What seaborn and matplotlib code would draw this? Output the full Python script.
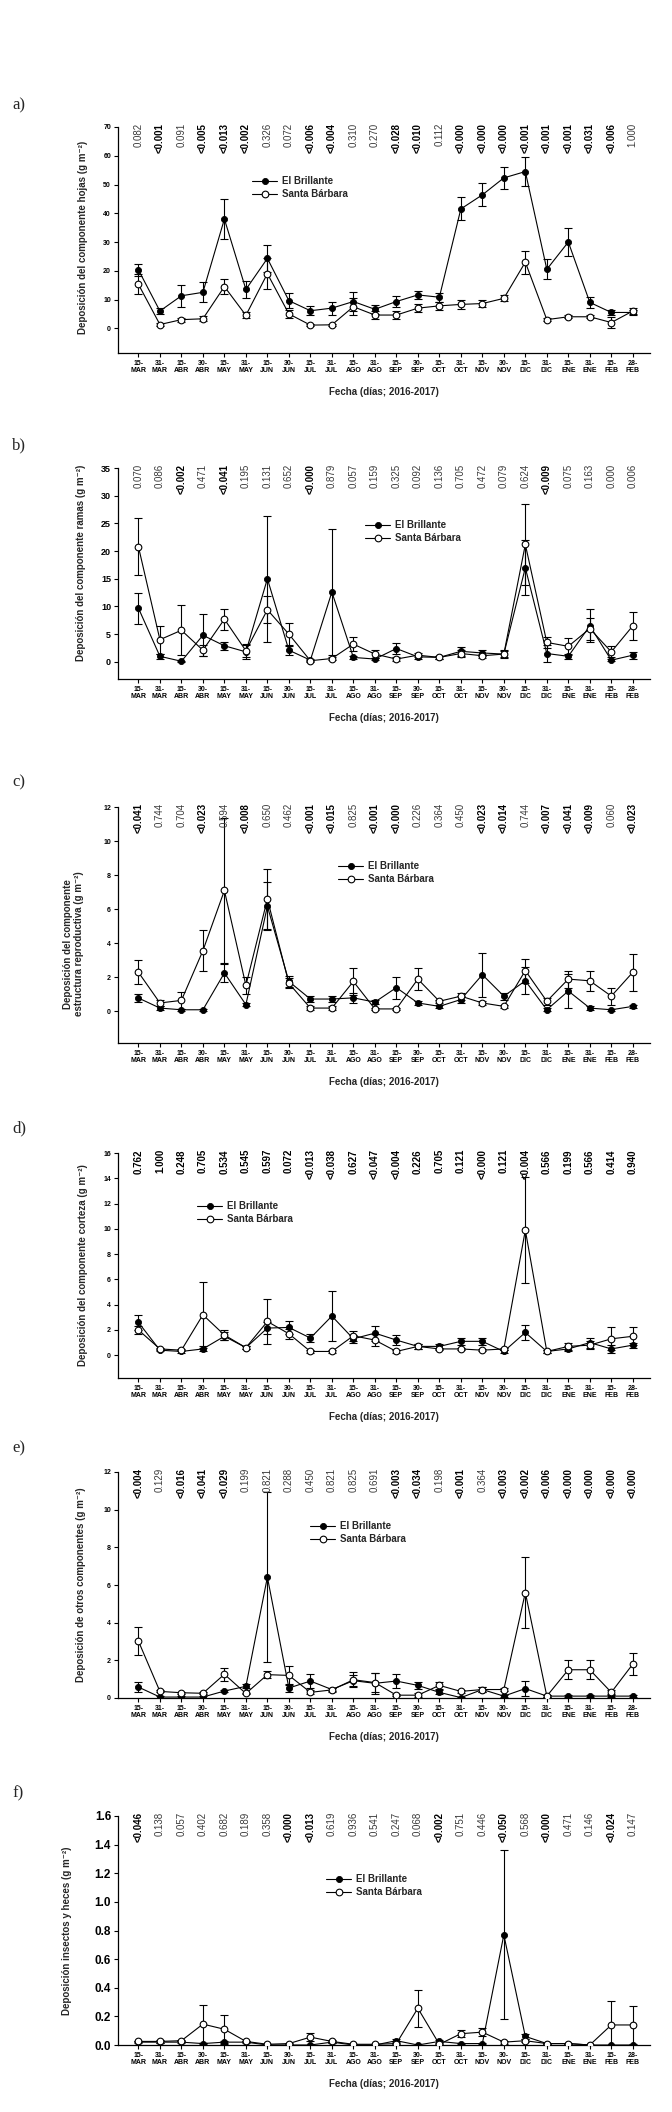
import numpy as np
import pandas as pd
import matplotlib
matplotlib.use('Agg')
import matplotlib.pyplot as plt
import matplotlib.transforms as mtransforms
import seaborn as sns

# ---------------- datos ----------------
fechas = ['15-\nMAR', '31-\nMAR', '15-\nABR', '30-\nABR', '15-\nMAY', '31-\nMAY',
          '15-\nJUN', '30-\nJUN', '15-\nJUL', '31-\nJUL', '15-\nAGO', '31-\nAGO',
          '15-\nSEP', '30-\nSEP', '15-\nOCT', '31-\nOCT', '15-\nNOV', '30-\nNOV',
          '15-\nDIC', '31-\nDIC', '15-\nENE', '31-\nENE', '15-\nFEB', '28-\nFEB']

# a) hojas
hojas_eb = [20.3, 6.0, 11.3, 12.5, 38.0, 13.5, 24.3, 9.6, 6.1, 7.0, 9.3, 6.6,
            9.3, 11.6, 10.8, 41.5, 46.4, 52.3, 54.5, 20.5, 30.0, 9.0, 5.5, 5.5]
hojas_eb_err = [2.0, 1.0, 3.8, 3.5, 7.0, 3.0, 4.6, 2.5, 1.5, 2.3, 3.3, 1.5,
                2.0, 1.5, 1.5, 4.0, 4.0, 3.8, 5.0, 3.5, 5.0, 2.0, 1.0, 1.0]
hojas_sb = [15.3, 1.3, 3.0, 3.3, 14.5, 4.5, 19.0, 5.0, 1.1, 1.2, 7.5, 4.6,
            4.6, 7.0, 7.8, 8.3, 8.6, 10.4, 23.0, 3.0, 4.0, 4.0, 2.0, 6.0]
hojas_sb_err = [3.5, 0.5, 0.7, 0.8, 2.5, 1.0, 5.5, 1.5, 0.3, 0.3, 2.9, 1.5,
                1.5, 1.5, 1.5, 1.5, 1.2, 1.0, 4.0, 0.5, 0.5, 0.5, 2.0, 1.0]
p_hojas = ['0.082', '<0.001', '0.091', '<0.005', '<0.013', '<0.002', '0.326', '0.072',
           '<0.006', '<0.004', '0.310', '0.270', '<0.028', '<0.010', '0.112', '<0.000',
           '<0.000', '<0.000', '<0.001', '<0.001', '<0.001', '<0.031', '<0.006', '1.000']

# b) ramas
ramas_eb = [9.7, 1.0, 0.1, 4.8, 2.9, 1.8, 15.0, 2.1, 0.3, 12.6, 0.8, 0.5,
            2.4, 0.9, 0.8, 1.9, 1.6, 1.4, 17.0, 1.5, 1.0, 6.5, 0.3, 1.2]
ramas_eb_err = [2.8, 0.5, 0.1, 3.8, 0.7, 1.2, 11.4, 0.8, 0.2, 11.3, 0.3, 0.2,
                1.0, 0.3, 0.3, 0.8, 0.6, 0.7, 5.0, 1.5, 0.5, 3.0, 0.2, 0.6]
ramas_sb = [20.8, 4.0, 5.7, 2.1, 7.7, 2.0, 9.4, 5.0, 0.2, 0.6, 3.2, 1.4,
            0.5, 1.2, 0.8, 1.5, 1.1, 1.4, 21.2, 3.5, 2.8, 6.0, 1.8, 6.5]
ramas_sb_err = [5.2, 2.5, 4.5, 1.0, 1.9, 1.2, 2.4, 2.0, 0.2, 0.3, 1.3, 0.7,
                0.3, 0.4, 0.3, 0.6, 0.4, 0.5, 7.3, 1.0, 1.5, 2.0, 1.0, 2.5]
p_ramas = ['0.070', '0.086', '<0.002', '0.471', '<0.041', '0.195', '0.131', '0.652',
           '<0.000', '0.879', '0.057', '0.159', '0.325', '0.092', '0.136', '0.705',
           '0.472', '0.079', '0.624', '<0.009', '0.075', '0.163', '0.000', '0.006']

# c) estructura reproductiva
estr_eb = [0.79, 0.2, 0.1, 0.1, 2.26, 0.4, 6.18, 1.76, 0.73, 0.73, 0.8, 0.55,
           1.4, 0.5, 0.3, 0.7, 2.16, 0.9, 1.8, 0.1, 1.2, 0.2, 0.1, 0.3]
estr_eb_err = [0.25, 0.1, 0.05, 0.05, 0.55, 0.1, 1.4, 0.3, 0.15, 0.15, 0.3, 0.1,
               0.65, 0.1, 0.1, 0.2, 1.3, 0.2, 0.8, 0.1, 1.0, 0.1, 0.05, 0.1]
estr_sb = [2.3, 0.5, 0.65, 3.57, 7.1, 1.53, 6.6, 1.65, 0.2, 0.2, 1.76, 0.15,
           0.15, 1.9, 0.6, 0.9, 0.5, 0.3, 2.4, 0.6, 1.9, 1.8, 0.9, 2.3]
estr_sb_err = [0.7, 0.2, 0.5, 1.2, 4.27, 0.5, 1.75, 0.3, 0.1, 0.1, 0.8, 0.05,
               0.05, 0.65, 0.1, 0.2, 0.1, 0.1, 0.7, 0.2, 0.5, 0.6, 0.5, 1.1]
p_estr = ['<0.041', '0.744', '0.704', '<0.023', '0.594', '<0.008', '0.650', '0.462',
          '<0.001', '<0.015', '0.825', '<0.001', '<0.000', '0.226', '0.364', '0.450',
          '<0.023', '<0.014', '0.744', '<0.007', '<0.041', '<0.009', '0.060', '<0.023']

# d) corteza
cort_eb = [2.6, 0.4, 0.3, 0.5, 1.5, 0.6, 2.15, 2.2, 1.36, 3.1, 1.3, 1.75,
           1.2, 0.7, 0.7, 1.1, 1.1, 0.3, 1.8, 0.3, 0.5, 1.0, 0.5, 0.8]
cort_eb_err = [0.6, 0.1, 0.1, 0.2, 0.3, 0.1, 0.5, 0.5, 0.3, 1.95, 0.3, 0.6,
               0.4, 0.2, 0.2, 0.3, 0.3, 0.1, 0.6, 0.1, 0.2, 0.4, 0.3, 0.2]
cort_sb = [2.0, 0.5, 0.4, 3.2, 1.6, 0.6, 2.67, 1.7, 0.3, 0.3, 1.54, 1.2,
           0.3, 0.7, 0.5, 0.5, 0.4, 0.5, 9.9, 0.3, 0.7, 0.8, 1.3, 1.5]
cort_sb_err = [0.3, 0.1, 0.1, 2.6, 0.4, 0.1, 1.8, 0.4, 0.1, 0.1, 0.4, 0.5,
               0.1, 0.2, 0.1, 0.1, 0.1, 0.1, 4.2, 0.1, 0.3, 0.3, 0.9, 0.7]
p_cort = ['0.762', '1.000', '0.248', '0.705', '0.534', '0.545', '0.597', '0.072',
          '<0.013', '<0.038', '0.627', '<0.047', '<0.004', '0.226', '0.705', '0.121',
          '<0.000', '0.121', '<0.004', '0.566', '0.199', '0.566', '0.414', '0.940']

# e) otros componentes
otros_eb = [0.58, 0.05, 0.05, 0.05, 0.37, 0.62, 6.42, 0.53, 0.9, 0.45, 0.92, 0.78,
            0.9, 0.67, 0.3, 0.02, 0.45, 0.1, 0.5, 0.1, 0.1, 0.1, 0.1, 0.1]
otros_eb_err = [0.27, 0.03, 0.03, 0.03, 0.05, 0.1, 4.5, 0.2, 0.35, 0.1, 0.3, 0.55,
                0.35, 0.2, 0.1, 0.02, 0.15, 0.05, 0.4, 0.05, 0.05, 0.05, 0.05, 0.05]
otros_sb = [3.02, 0.35, 0.28, 0.25, 1.26, 0.24, 1.24, 1.2, 0.3, 0.43, 0.97, 0.82,
            0.15, 0.15, 0.67, 0.35, 0.45, 0.45, 5.6, 0.1, 1.5, 1.5, 0.3, 1.8]
otros_sb_err = [0.73, 0.05, 0.05, 0.05, 0.35, 0.05, 0.2, 0.5, 0.1, 0.1, 0.4, 0.5,
                0.05, 0.1, 0.2, 0.1, 0.15, 0.1, 1.9, 0.05, 0.5, 0.5, 0.1, 0.6]
p_otros = ['<0.004', '0.129', '<0.016', '<0.041', '<0.029', '0.199', '0.821', '0.288',
           '0.450', '0.821', '0.825', '0.691', '<0.003', '<0.034', '0.198', '<0.001',
           '0.364', '<0.003', '<0.002', '<0.006', '<0.000', '<0.000', '<0.000', '<0.000']

# f) insectos y heces
ins_eb = [0.02, 0.02, 0.02, 0.01, 0.02, 0.02, 0.0, 0.0, 0.0, 0.02, 0.0, 0.0,
          0.03, 0.0, 0.025, 0.01, 0.01, 0.77, 0.06, 0.01, 0.01, 0.0, 0.0, 0.0]
ins_eb_err = [0.005, 0.005, 0.005, 0.005, 0.005, 0.005, 0.0, 0.0, 0.0, 0.005, 0.0, 0.0,
              0.01, 0.0, 0.01, 0.005, 0.005, 0.59, 0.02, 0.005, 0.005, 0.0, 0.0, 0.0]
ins_sb = [0.025, 0.025, 0.03, 0.146, 0.11, 0.025, 0.005, 0.01, 0.055, 0.025, 0.005, 0.005,
          0.01, 0.257, 0.005, 0.079, 0.09, 0.02, 0.03, 0.01, 0.01, 0.0, 0.14, 0.14]
ins_sb_err = [0.005, 0.01, 0.005, 0.135, 0.1, 0.005, 0.003, 0.005, 0.03, 0.01, 0.003, 0.003,
              0.005, 0.13, 0.005, 0.025, 0.03, 0.01, 0.01, 0.005, 0.005, 0.0, 0.17, 0.13]
p_ins = ['<0.046', '0.138', '0.057', '0.402', '0.682', '0.189', '0.358', '<0.000',
         '<0.013', '0.619', '0.936', '0.541', '0.247', '0.068', '<0.002', '0.751',
         '0.446', '<0.050', '0.568', '<0.000', '0.471', '0.146', '<0.024', '0.147']

# ---------------- estilo ----------------
sns.set_style('ticks')
plt.rcParams['font.family'] = ['Liberation Sans', 'DejaVu Sans']
NARROW = ['Liberation Sans Narrow', 'Liberation Sans', 'DejaVu Sans']
SERIF = ['Liberation Serif', 'DejaVu Serif']

W, H = 672, 2112
fig = plt.figure(figsize=(W / 100, H / 100), dpi=100)
X0, X1 = 118, 650   # borde izquierdo / derecho de los ejes (px)

paneles = [
    dict(letra='a)', ly=105, top=127, bot=353, ylim=(-8.6, 70), yt=np.arange(0, 71, 10),
         ylab='Deposición del componente hojas (g m⁻²)', labx=88, laby=0.51,
         eb=hojas_eb, ebe=hojas_eb_err, sb=hojas_sb, sbe=hojas_sb_err, p=p_hojas,
         leg=(252, 182), allbold=False, ytfs=5, fmt='{:.0f}'),
    dict(letra='b)', ly=445, top=468, bot=679, ylim=(-3.1, 35), yt=np.arange(0, 36, 5),
         ylab='Deposición del componente ramas (g m⁻²)', labx=86, laby=0.55,
         eb=ramas_eb, ebe=ramas_eb_err, sb=ramas_sb, sbe=ramas_sb_err, p=p_ramas,
         leg=(365, 526), allbold=False, ytfs=6.5, fmt='{:.0f}'),
    dict(letra='c)', ly=782, top=807, bot=1043, ylim=(-1.85, 12), yt=np.arange(0, 13, 2),
         ylab='Deposición del componente\nestructura reproductiva (g m⁻²)', labx=84, laby=0.42,
         eb=estr_eb, ebe=estr_eb_err, sb=estr_sb, sbe=estr_sb_err, p=p_estr,
         leg=(338, 867), allbold=False, ytfs=5, fmt='{:.0f}'),
    dict(letra='d)', ly=1128, top=1153, bot=1378, ylim=(-1.8, 16), yt=np.arange(0, 17, 2),
         ylab='Deposición del componente corteza (g m⁻²)', labx=88, laby=0.5,
         eb=cort_eb, ebe=cort_eb_err, sb=cort_sb, sbe=cort_sb_err, p=p_cort,
         leg=(197, 1207), allbold=True, ytfs=5, fmt='{:.0f}'),
    dict(letra='e)', ly=1448, top=1472, bot=1698, ylim=(0, 12), yt=np.arange(0, 13, 2),
         ylab='Deposición de otros componentes (g m⁻²)', labx=86, laby=0.5,
         eb=otros_eb, ebe=otros_eb_err, sb=otros_sb, sbe=otros_sb_err, p=p_otros,
         leg=(310, 1527), allbold=False, ytfs=5, fmt='{:.0f}'),
    dict(letra='f)', ly=1793, top=1816, bot=2045, ylim=(0, 1.6), yt=np.arange(0, 1.61, 0.2),
         ylab='Deposición insectos y heces (g m⁻²)', labx=72, laby=0.5,
         eb=ins_eb, ebe=ins_eb_err, sb=ins_sb, sbe=ins_sb_err, p=p_ins,
         leg=(326, 1880), allbold=False, ytfs=8.5, fmt='{:.1f}'),
]

x = np.arange(len(fechas))

for pan in paneles:
    top, bot = pan['top'], pan['bot']
    alto = bot - top
    ax = fig.add_axes([X0 / W, 1 - bot / H, (X1 - X0) / W, alto / H])

    # barras de error
    ax.errorbar(x, pan['eb'], yerr=pan['ebe'], fmt='none', ecolor='black',
                elinewidth=0.8, capsize=2.6, capthick=0.8, zorder=2)
    ax.errorbar(x, pan['sb'], yerr=pan['sbe'], fmt='none', ecolor='black',
                elinewidth=0.8, capsize=2.6, capthick=0.8, zorder=2)

    df = pd.DataFrame({'x': x, 'eb': pan['eb'], 'sb': pan['sb']})
    sns.lineplot(data=df, x='x', y='eb', ax=ax, color='black', linewidth=0.8,
                 marker='o', markersize=4.4, markerfacecolor='black',
                 markeredgecolor='black', markeredgewidth=0.6,
                 label='El Brillante', zorder=3)
    sns.lineplot(data=df, x='x', y='sb', ax=ax, color='black', linewidth=0.8,
                 marker='o', markersize=4.8, markerfacecolor='white',
                 markeredgecolor='black', markeredgewidth=0.8,
                 label='Santa Bárbara', zorder=4)

    ax.set_xlim(-0.95, 23.8)
    ax.set_ylim(*pan['ylim'])
    ax.set_yticks(pan['yt'])
    ax.set_yticklabels([pan['fmt'].format(v) for v in pan['yt']],
                       fontsize=pan['ytfs'], fontweight='bold')
    ax.set_xticks(x)
    ax.set_xticklabels(fechas, fontsize=5, fontweight='bold', linespacing=1.05)
    ax.tick_params(axis='both', length=3, width=0.8, pad=2, colors='black')
    for s in ['top', 'right']:
        ax.spines[s].set_visible(False)
    for s in ['left', 'bottom']:
        ax.spines[s].set_linewidth(0.9)
        ax.spines[s].set_color('black')

    # etiquetas de ejes
    ax.set_ylabel(pan['ylab'], fontsize=7, fontweight='bold', family=NARROW,
                  linespacing=1.1)
    ax.yaxis.set_label_coords((pan['labx'] - X0) / (X1 - X0), pan['laby'])
    ax.set_xlabel('Fecha (días; 2016-2017)', fontsize=7, fontweight='bold')
    ax.xaxis.set_label_coords(0.5, -34 / alto)

    # valores p sobre cada fecha
    trans = mtransforms.blended_transform_factory(ax.transData, ax.transAxes)
    for i, p in enumerate(pan['p']):
        negrita = pan['allbold'] or p.startswith('<')
        ax.text(i, 1 + 4 / alto, p, rotation=90, ha='center', va='top',
                transform=trans, fontsize=7, clip_on=False,
                fontweight='bold' if negrita else 'normal',
                family=NARROW if negrita else ['Liberation Sans', 'DejaVu Sans'],
                color='black' if negrita else '#3a3a3a')

    # leyenda
    lx, lyy = pan['leg']
    h, l = ax.get_legend_handles_labels()
    ax.legend(h, l, loc='upper left',
              bbox_to_anchor=((lx - X0) / (X1 - X0), (bot - (lyy - 6)) / alto),
              frameon=False, handlelength=2.6, handletextpad=0.5, borderpad=0,
              borderaxespad=0, labelspacing=0.3,
              prop={'size': 7, 'weight': 'bold', 'family': NARROW})

    # letra del panel
    fig.text(12 / W, 1 - pan['ly'] / H, pan['letra'], fontsize=12, family=SERIF,
             ha='left', va='center')

fig.savefig('out.png', dpi=100)
